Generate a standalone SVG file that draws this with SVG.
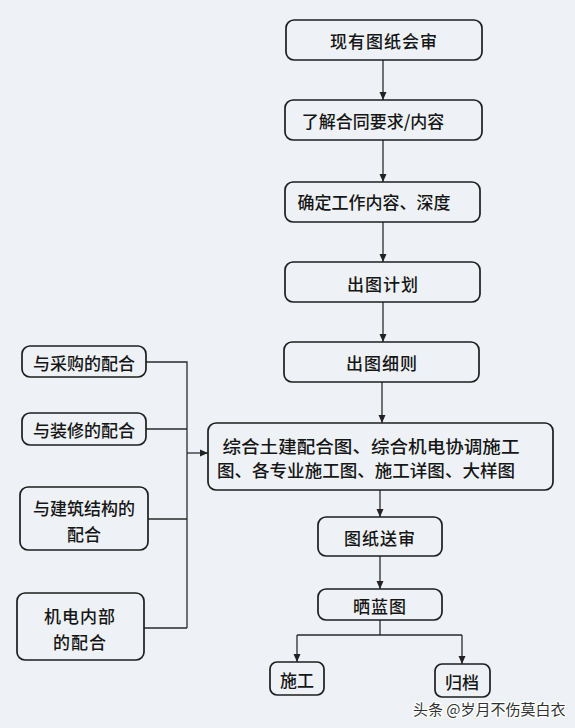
<svg xmlns="http://www.w3.org/2000/svg" width="575" height="728" viewBox="0 0 575 728">
<defs>
<style>
.box{fill:none;stroke:#1e1e1e;stroke-width:1.7}
.t{font-family:"Noto Sans CJK SC","Noto Sans CJK JP",sans-serif;font-size:17px;font-weight:500;fill:#161616;text-anchor:middle;dominant-baseline:central}
.ln{fill:none;stroke:#2a2a2a;stroke-width:1.3}
.wm{font-family:"Noto Sans CJK SC",sans-serif;font-size:15px;fill:#333;stroke:#fff;stroke-width:2.5;paint-order:stroke;dominant-baseline:central}
</style>
<marker id="ah" viewBox="0 0 8 10" refX="8" refY="5" markerWidth="8" markerHeight="10" markerUnits="userSpaceOnUse" orient="auto">
<path d="M0,1.5 L8,5 L0,8.5 Z" fill="#222"/>
</marker>
</defs>
<rect width="575" height="728" fill="#eef2f7"/>
<g id="connectors">
<path class="ln" d="M383,60 V100" marker-end="url(#ah)"/>
<path class="ln" d="M383,140 V182" marker-end="url(#ah)"/>
<path class="ln" d="M383,222 V262" marker-end="url(#ah)"/>
<path class="ln" d="M383,302 V342" marker-end="url(#ah)"/>
<path class="ln" d="M382,382 V423" marker-end="url(#ah)"/>
<path class="ln" d="M380,490 V517" marker-end="url(#ah)"/>
<path class="ln" d="M380,556 V589" marker-end="url(#ah)"/>
<path class="ln" d="M380,620 V635 M297,635 H462"/>
<path class="ln" d="M297,635 V662" marker-end="url(#ah)"/>
<path class="ln" d="M462,635 V664" marker-end="url(#ah)"/>
<path class="ln" d="M146,362 H187 V628 M146,429 H187 M148,519 H187 M144,628 H187"/>
<path class="ln" d="M187,453 H208" marker-end="url(#ah)"/>
</g>
<g id="n1"><rect class="box" x="286" y="20" width="196" height="40" rx="8"/><text class="t" x="384" y="40" letter-spacing="1">现有图纸会审</text></g>
<g id="n2"><rect class="box" x="285" y="100" width="197" height="40" rx="8"/><text class="t" x="373" y="120">了解合同要求/内容</text></g>
<g id="n3"><rect class="box" x="285" y="182" width="195" height="40" rx="8"/><text class="t" x="374" y="201">确定工作内容、深度</text></g>
<g id="n4"><rect class="box" x="285" y="262" width="195" height="40" rx="8"/><text class="t" x="383" y="283" letter-spacing="1">出图计划</text></g>
<g id="n5"><rect class="box" x="284" y="342" width="195" height="40" rx="8"/><text class="t" x="382" y="362" letter-spacing="1">出图细则</text></g>
<g id="n6"><rect class="box" x="208" y="423" width="345" height="67" rx="8"/>
<text class="t" x="371" y="445" textLength="297" lengthAdjust="spacingAndGlyphs">综合土建配合图、综合机电协调施工</text>
<text class="t" x="366" y="469" textLength="298" lengthAdjust="spacingAndGlyphs">图、各专业施工图、施工详图、大样图</text></g>
<g id="n7"><rect class="box" x="318" y="517" width="124" height="39" rx="8"/><text class="t" x="380" y="537" letter-spacing="1">图纸送审</text></g>
<g id="n8"><rect class="box" x="318" y="589" width="124" height="31" rx="8"/><text class="t" x="380" y="605" letter-spacing="1">晒蓝图</text></g>
<g id="n9"><rect class="box" x="270" y="662" width="54" height="33" rx="7"/><text class="t" x="297" y="679">施工</text></g>
<g id="n10"><rect class="box" x="435" y="664" width="55" height="33" rx="7"/><text class="t" x="462" y="681">归档</text></g>
<g id="a1"><rect class="box" x="22" y="346" width="124" height="31" rx="8"/><text class="t" x="84" y="362">与采购的配合</text></g>
<g id="a2"><rect class="box" x="22" y="413" width="124" height="32" rx="8"/><text class="t" x="84" y="429">与装修的配合</text></g>
<g id="a3"><rect class="box" x="20" y="487" width="128" height="63" rx="8"/><text class="t" x="84" y="507">与建筑结构的</text><text class="t" x="84" y="533">配合</text></g>
<g id="a4"><rect class="box" x="17" y="593" width="127" height="67" rx="8"/><text class="t" x="80" y="615" letter-spacing="1">机电内部</text><text class="t" x="80" y="641" letter-spacing="1">的配合</text></g>
<text class="wm" x="413" y="708">头条 @岁月不伤莫白衣</text>
</svg>
